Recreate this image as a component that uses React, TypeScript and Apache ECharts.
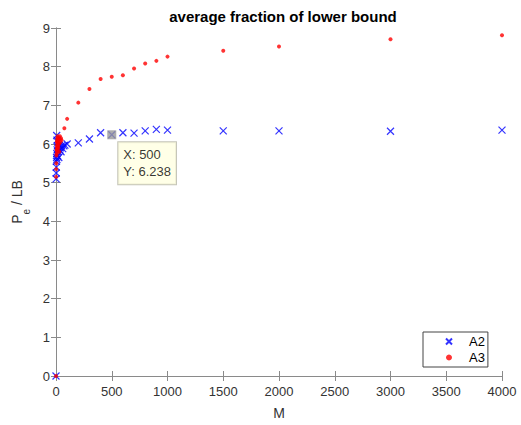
import React, { useEffect, useRef } from "react";
import * as echarts from "echarts";

const TITLE = "average fraction of lower bound";
const X_TICKS_MAX = 4000;
const X_INTERVAL = 500;
const Y_MAX = 9;

const A2_M = [0, 1, 2, 3, 4, 5, 6, 7, 8, 9, 10, 12, 14, 16, 18, 20, 25, 30, 35, 40, 45, 50, 60, 70, 80, 100, 200, 300, 400, 500, 600, 700, 800, 900, 1000, 1500, 2000, 3000, 4000];
const A2_Y = [0, 5.1, 5.25, 5.4, 5.55, 5.65, 6.22, 5.75, 5.6, 6.1, 5.85, 5.95, 5.7, 6.05, 5.8, 5.9, 5.65, 5.95, 5.85, 5.9, 5.8, 5.95, 5.88, 5.95, 5.97, 6.0, 6.03, 6.13, 6.29, 6.238, 6.29, 6.28, 6.34, 6.38, 6.36, 6.34, 6.34, 6.33, 6.36];

const A3_M = [0, 1, 2, 3, 4, 5, 6, 7, 8, 9, 10, 11, 12, 13, 14, 15, 16, 18, 20, 22, 25, 28, 30, 35, 40, 45, 50, 75, 100, 200, 300, 400, 500, 600, 700, 800, 900, 1000, 1500, 2000, 3000, 4000];
const A3_Y = [0, 5.15, 5.35, 5.5, 5.7, 5.85, 5.75, 5.95, 6.05, 5.8, 6.1, 5.9, 6.15, 6.0, 5.85, 6.2, 6.05, 5.95, 6.1, 5.9, 6.15, 6.0, 5.8, 6.2, 6.05, 6.15, 6.1, 6.41, 6.65, 7.07, 7.42, 7.68, 7.74, 7.78, 7.95, 8.08, 8.15, 8.26, 8.41, 8.52, 8.71, 8.81];

const TIP_M = 500;

const FONT = "Liberation Sans, Arial, Helvetica, sans-serif";

export default function App() {
  const ref = useRef<HTMLDivElement>(null);
  useEffect(() => {
    if (!ref.current) return;
    const chart = echarts.init(ref.current, undefined, { renderer: "svg" });
    const a2 = A2_M.map((m, i) => [m, A2_Y[i]]);
    const a3 = A3_M.map((m, i) => [m, A3_Y[i]]);
    const tipIdx = A2_M.indexOf(TIP_M);
    const tip = [A2_M[tipIdx], A2_Y[tipIdx]];
    const axisColor = "#8a8a8a";
    const labelColor = "#333";
    const common = {
      min: 0,
      axisLine: { show: true, lineStyle: { color: axisColor, width: 1 } },
      axisTick: { show: true, inside: true, length: 5, lineStyle: { color: axisColor } },
      splitLine: { show: false },
    };
    chart.setOption({
      animation: false,
      backgroundColor: "#fff",
      title: {
        text: TITLE,
        left: 278,
        top: 4,
        textAlign: "center",
        textStyle: { fontFamily: FONT, fontSize: 15, fontWeight: "bold", color: "#000" },
      },
      grid: { left: 56, right: 19, top: 28, bottom: 46 },
      legend: {
        data: ["A2", "A3"],
        orient: "vertical",
        left: 423,
        top: 332,
        padding: [3, 3, 3, 22],
        itemGap: 3,
        itemWidth: 6,
        itemHeight: 6,
        backgroundColor: "#fff",
        borderColor: "#444",
        borderWidth: 1,
        borderRadius: 0,
        textStyle: { fontFamily: FONT, fontSize: 13, color: "#000", padding: [0, 0, 0, 12] },
      },
      xAxis: [
        {
          ...common,
          type: "value",
          max: X_TICKS_MAX,
          interval: X_INTERVAL,
          position: "bottom",
          name: "M",
          nameLocation: "middle",
          nameGap: 30,
          nameTextStyle: { fontFamily: FONT, fontSize: 14, color: labelColor },
          axisLabel: {
            fontFamily: FONT,
            fontSize: 13,
            color: labelColor,
            margin: 9,
            formatter: (v: number) => String(v),
          },
        },
        {
          ...common,
          type: "value",
          max: X_TICKS_MAX,
          interval: X_INTERVAL,
          position: "top",
          axisLabel: { show: false },
        },
      ],
      yAxis: [
        {
          ...common,
          type: "value",
          max: Y_MAX,
          interval: 1,
          position: "left",
          name: "{p|P}{s|e}{p| / LB}",
          nameLocation: "middle",
          nameRotate: 90,
          nameGap: 22,
          nameTextStyle: {
            fontFamily: FONT,
            color: labelColor,
            rich: {
              p: { fontFamily: FONT, fontSize: 14, color: labelColor, lineHeight: 30, verticalAlign: "middle" },
              s: { fontFamily: FONT, fontSize: 10, color: labelColor, lineHeight: 10, verticalAlign: "bottom" },
            },
          },
          axisLabel: { fontFamily: FONT, fontSize: 13, color: labelColor, margin: 6 },
        },
        {
          ...common,
          type: "value",
          max: Y_MAX,
          interval: 1,
          position: "right",
          axisLabel: { show: false },
        },
      ],
      series: [
        {
          name: "A2",
          type: "scatter",
          data: a2,
          symbol: "path://M0,0L10,10M0,10L10,0",
          symbolSize: 7,
          itemStyle: { color: "rgba(0,0,0,0)", borderColor: "#0000ff", borderWidth: 1.2 },
          z: 2,
        },
        {
          name: "A3",
          type: "scatter",
          data: a3,
          symbol: "circle",
          symbolSize: 4,
          itemStyle: { color: "#ff0000" },
          z: 3,
        },
        {
          name: "datatip",
          type: "scatter",
          data: [tip],
          symbol: "rect",
          symbolSize: 9,
          itemStyle: { color: "#999999" },
          z: 4,
          label: {
            show: true,
            position: [11, 12],
            align: "left",
            verticalAlign: "top",
            formatter: () => `X: ${tip[0]}\nY: ${tip[1]}`,
            fontFamily: FONT,
            fontSize: 13,
            lineHeight: 17,
            color: "#000",
            backgroundColor: "#ffffe1",
            borderColor: "#b5b5a5",
            borderWidth: 1,
            padding: [4, 5, 4, 5],
          },
        },
      ],
    });
    return () => chart.dispose();
  }, []);
  return (
    <div
      ref={ref}
      style={{ position: "fixed", left: 0, top: 0, width: 521, height: 425 }}
    />
  );
}
